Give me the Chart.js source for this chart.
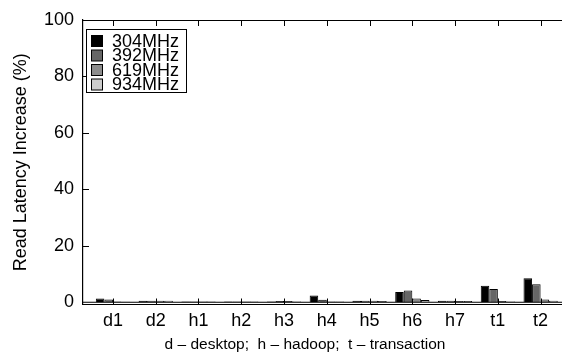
<!DOCTYPE html>
<html>
<head>
<meta charset="utf-8">
<script src="https://cdn.jsdelivr.net/npm/chart.js@4/dist/chart.umd.min.js"></script>
<style>
  html, body { margin: 0; padding: 0; background: #fff; }
  #wrap { width: 562px; height: 358px; }
</style>
</head>
<body>
<div id="wrap"><canvas id="latency"></canvas></div>
<script>
// categories along the x axis
const categories = ["d1", "d2", "h1", "h2", "h3", "h4", "h5", "h6", "h7", "t1", "t2"];
const seriesLabels = ["304MHz", "392MHz", "619MHz", "934MHz"];

// read latency increase (%) per frequency
const mhz304 = [1.3, 0.5, 0.3, 0.3, 0.3, 2.4, 0.5, 3.6, 0.5, 5.8, 8.5];
const mhz392 = [1.0, 0.5, 0.3, 0.3, 0.4, 0.9, 0.5, 4.2, 0.5, 4.7, 6.4];
const mhz619 = [0.3, 0.5, 0.3, 0.3, 0.4, 0.3, 0.5, 1.3, 0.4, 0.4, 1.0];
const mhz934 = [0.2, 0.5, 0.3, 0.3, 0.3, 0.3, 0.4, 0.8, 0.4, 0.3, 0.5];

const yTicks = [0, 20, 40, 60, 80, 100];
const xTitle = "d \u2013 desktop;  h \u2013 hadoop;  t \u2013 transaction";

const fills = ["#000000", "#666666", "#8c8c8c", "#cccccc"];
const FONT = "'Liberation Sans', Arial, sans-serif";

const toPoints = (vals) => vals.map((v, i) => ({ x: i, y: v }));

// frame, inward ticks, x title and the in-plot legend
const framePlugin = {
  id: "frame",
  afterDraw(chart) {
    const { ctx, chartArea: a, scales } = chart;
    const xs = scales.x, ys = scales.y;
    ctx.save();
    ctx.strokeStyle = "#000";
    ctx.lineWidth = 1.2;
    ctx.beginPath();
    // top border
    ctx.moveTo(a.left, a.top + 0.5);
    ctx.lineTo(a.right, a.top + 0.5);
    // bottom border
    ctx.moveTo(a.left, a.bottom);
    ctx.lineTo(a.right, a.bottom);
    // zero line
    const y0 = ys.getPixelForValue(0);
    ctx.moveTo(a.left, y0);
    ctx.lineTo(a.right, y0);
    ctx.stroke();

    ctx.lineWidth = 1;
    ctx.beginPath();
    yTicks.forEach((t) => {
      if (t === 0) return;
      const y = Math.round(ys.getPixelForValue(t)) + 0.5;
      ctx.moveTo(a.left, y);
      ctx.lineTo(a.left + 6, y);
    });
    categories.forEach((c, i) => {
      const x = Math.round(xs.getPixelForValue(i)) + 0.5;
      ctx.moveTo(x, a.bottom);
      ctx.lineTo(x, a.bottom - 6);
      ctx.moveTo(x, a.top);
      ctx.lineTo(x, a.top + 6);
    });
    ctx.stroke();

    // x axis title (gnuplot centres it a bit left of the plot centre)
    ctx.fillStyle = "#000";
    ctx.font = "15.5px " + FONT;
    ctx.textAlign = "center";
    ctx.textBaseline = "middle";
    ctx.fillText(xTitle, 305, 345);

    // legend box
    const lx = 86.5, ly = 29.5, lw = 100, lh = 63;
    ctx.fillStyle = "#fff";
    ctx.fillRect(lx, ly, lw, lh);
    ctx.strokeRect(lx, ly, lw, lh);
    ctx.font = "18px " + FONT;
    ctx.textAlign = "left";
    chart.data.datasets.forEach((ds, i) => {
      const cy = 41 + i * 14.5;
      ctx.fillStyle = ds.backgroundColor;
      ctx.fillRect(91.5, cy - 5.5, 11, 11);
      ctx.strokeRect(91.5, cy - 5.5, 11, 11);
      ctx.fillStyle = "#000";
      ctx.fillText(ds.label, 112, cy + 1);
    });
    ctx.restore();
  },
};

const ctx = document.getElementById("latency").getContext("2d");
new Chart(ctx, {
  type: "bar",
  data: {
    datasets: [mhz304, mhz392, mhz619, mhz934].map((vals, i) => ({
      label: seriesLabels[i],
      data: toPoints(vals),
      backgroundColor: fills[i],
      borderColor: "#000",
      borderWidth: 1,
      categoryPercentage: 0.8,
      barPercentage: 1.0,
    })),
  },
  options: {
    responsive: true,
    maintainAspectRatio: false,
    animation: false,
    layout: { padding: { top: 20, right: 0, left: 0, bottom: 0 } },
    plugins: {
      legend: { display: false },
      tooltip: { enabled: false },
    },
    scales: {
      x: {
        type: "linear",
        offset: false,
        min: -0.7,
        max: 10.5,
        afterBuildTicks: (s) => {
          s.ticks = categories.map((c, i) => ({ value: i }));
        },
        afterFit: (s) => { s.height = 53.5; },
        grid: { display: false, drawTicks: false },
        border: { display: false },
        ticks: {
          padding: 6,
          color: "#000",
          font: { family: FONT, size: 18 },
          callback: (v) => categories[v] ?? "",
        },
      },
      y: {
        min: -0.8,
        max: 100,
        afterBuildTicks: (s) => {
          s.ticks = yTicks.map((v) => ({ value: v }));
        },
        afterFit: (s) => { s.width = 83; },
        grid: { display: false, drawTicks: false },
        border: { display: true, color: "#000", width: 1.2 },
        ticks: {
          padding: 9,
          color: "#000",
          font: { family: FONT, size: 18 },
        },
        title: {
          display: true,
          text: "Read Latency Increase (%)",
          color: "#000",
          font: { family: FONT, size: 18 },
          padding: { top: 10, bottom: 0 },
        },
      },
    },
  },
  plugins: [framePlugin],
});
</script>
</body>
</html>
